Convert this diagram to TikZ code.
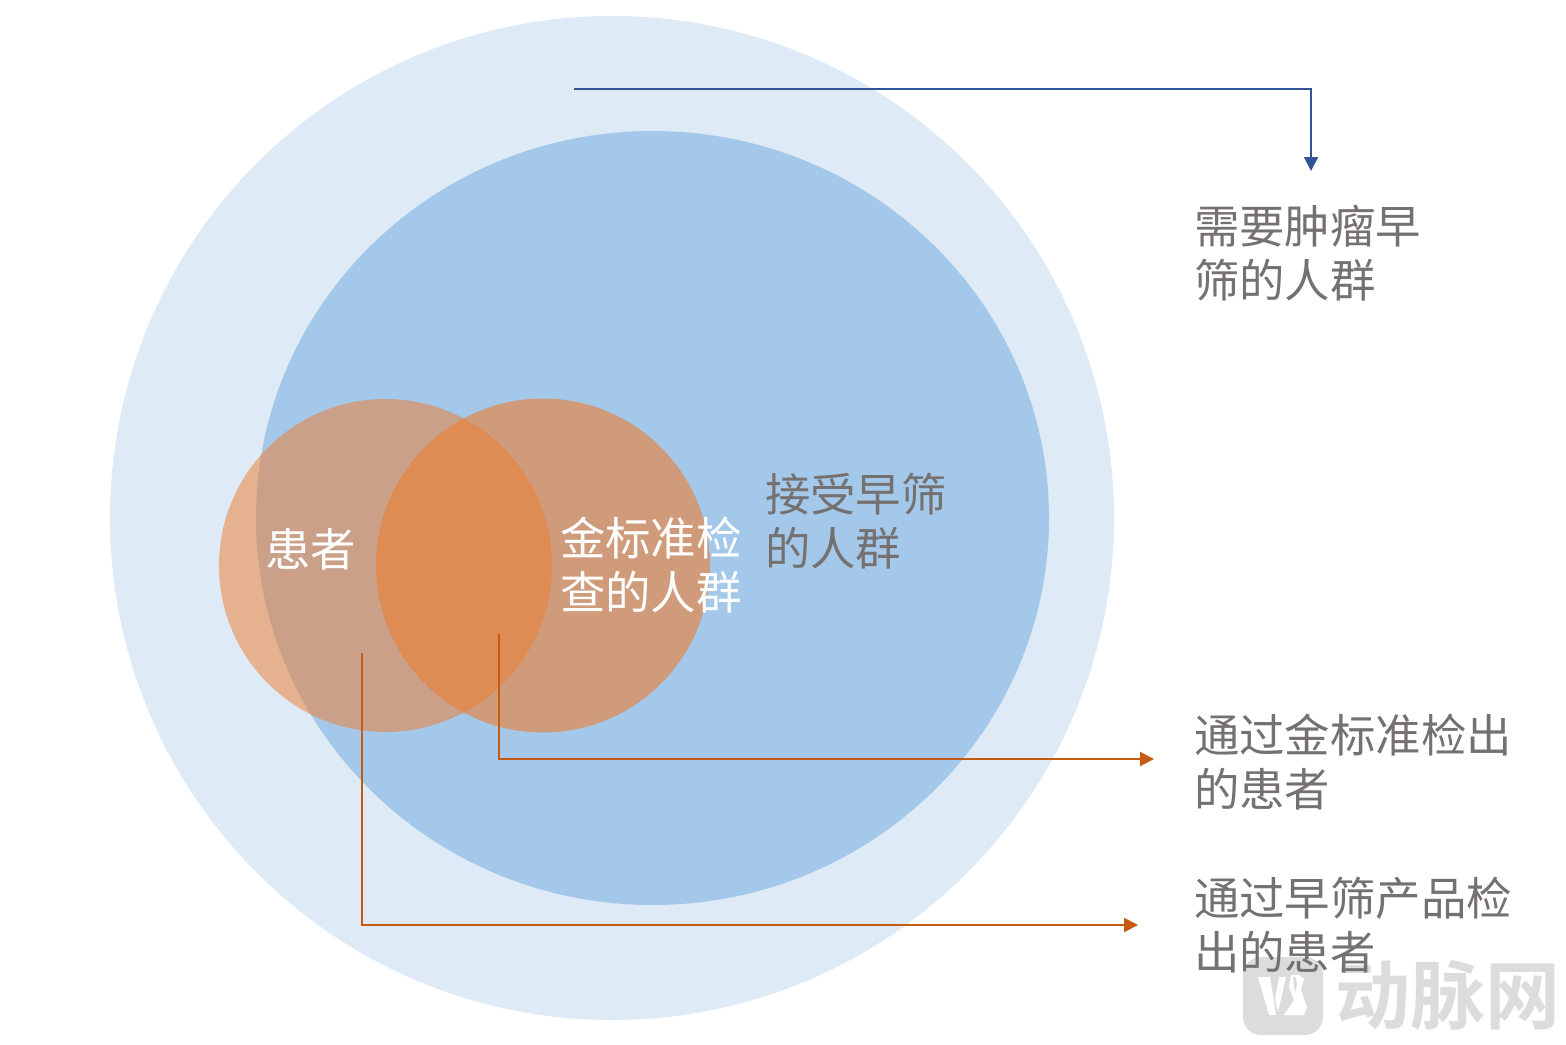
\documentclass[tikz,border=0pt]{standalone}
\usepackage{fontspec}
\setmainfont{Noto Sans CJK SC}
\newfontfamily\wmfont{Noto Sans CJK SC Bold}
\usetikzlibrary{arrows.meta,shapes.geometric}
\definecolor{outerblue}{HTML}{DEEAF6}
\definecolor{innerblue}{HTML}{A4C8E9}
\definecolor{vennorange}{HTML}{ED7D31}
\definecolor{labelgray}{HTML}{767171}
\definecolor{bluearrow}{HTML}{2F5597}
\definecolor{orangearrow}{HTML}{C55A11}
\definecolor{wmgray}{HTML}{DCDCDC}
\tikzset{
  blob/.style={draw=none,inner sep=0pt,outer sep=0pt},
  venn/.style={blob,circle,fill=vennorange},
  cjk/.style={inner sep=0pt,outer sep=0pt,anchor=west,align=left,font=\fontsize{22.7pt}{27pt}\selectfont},
  graylabel/.style={cjk,text=labelgray},
  whitelabel/.style={cjk,text=white},
  leader/.style={line width=1pt,-{Triangle[length=7pt,width=7pt]}},
}
\begin{document}
\begin{tikzpicture}[x=0.5pt,y=-0.5pt]
\useasboundingbox (0,0) rectangle (1566,1044);
% nested populations
\node[blob,circle,fill=outerblue,minimum size=502pt] (outer) at (612,518) {};
\node[blob,ellipse,fill=innerblue,minimum width=396.5pt,minimum height=387pt] (inner) at (652.5,518) {};
\node[venn,fill opacity=.52,minimum size=166.5pt] (patients) at (385.5,565.5) {};
\node[venn,fill opacity=.6,minimum size=167pt] (gold) at (543,565.5) {};
% watermark
\node[blob,rectangle,rounded corners=9pt,fill=wmgray,minimum width=40pt,minimum height=39pt] (wmbox) at (1283,996) {};
\fill[white] (1258,977) -- (1270,977) -- (1276,1015) -- (1269,1015) -- cycle;
\fill[white] (1279,977) -- (1286,977) -- (1278,1012) -- (1275,1000) -- cycle;
\fill[white] (1291,975) -- (1299,975) -- (1304,979) -- (1301,990) -- (1307,1007) -- (1304,1015) -- (1284,1015) -- (1294,1000) -- (1289,987) -- cycle;
\fill[wmgray] (1293,977) -- (1296,977) -- (1297,985) -- (1295,993) -- cycle;
\node[blob,text=wmgray,font=\wmfont\fontsize{37.5pt}{37.5pt}\selectfont] (wmtext) at (1448,995) {动脉网};
% labels
\node[whitelabel] (lpatients) at (265,549) {患者};
\node[whitelabel] (lgold) at (560,565) {金标准检\\查的人群};
\node[graylabel] (lscreened) at (765,521) {接受早筛\\的人群};
\node[graylabel] (lneed) at (1194,253) {需要肿瘤早\\筛的人群};
\node[graylabel] (lgoldpos) at (1194,762) {通过金标准检出\\的患者};
\node[graylabel] (lprodpos) at (1194,925) {通过早筛产品检\\出的患者};
% leader lines
\coordinate (needstart) at (574,89);
\coordinate (needend) at (1311,171);
\coordinate (goldstart) at (499,634);
\coordinate (goldend) at (1154,759);
\coordinate (prodstart) at (362,653);
\coordinate (prodend) at (1138,925);
\draw[leader,draw=bluearrow] (needstart) -| (needend);
\draw[leader,draw=orangearrow] (goldstart) |- (goldend);
\draw[leader,draw=orangearrow] (prodstart) |- (prodend);
\end{tikzpicture}
\end{document}
